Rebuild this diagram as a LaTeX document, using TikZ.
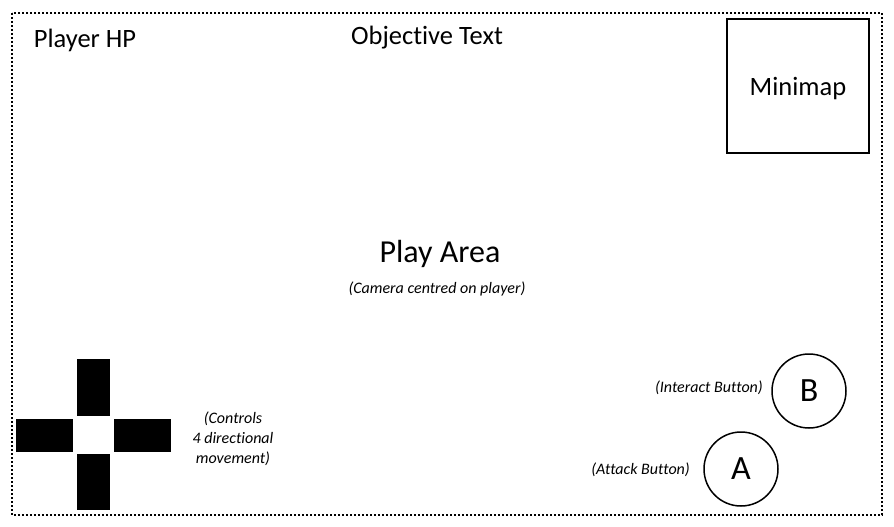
\documentclass[tikz,border=0pt]{standalone}
\usepackage{fontspec}
\setmainfont{Carlito}[Ligatures=CommonOff]
\begin{document}
\begin{tikzpicture}[x=1pt,y=-1pt,
  border/.style={line width=2pt,dash pattern=on 2pt off 2pt},
  pad/.style={fill=black,draw=none},
  btn/.style={circle,draw,line width=1.5pt,minimum size=74pt,inner sep=0pt,font=\fontsize{34}{34}\selectfont},
  lbl/.style={inner sep=0pt,font=\fontsize{26.5}{30}\selectfont},
  note/.style={inner sep=0pt,font=\itshape\fontsize{16}{20}\selectfont,align=center}]
\useasboundingbox (0,0) rectangle (894,527);
\draw[border] (12,13) rectangle (882,515);
\node[lbl] (hp) at (85,40) {Player HP};
\node[lbl] (obj) at (427,38) {Objective Text};
\node[draw,line width=2pt,minimum width=142pt,minimum height=133pt,inner sep=0pt] (map) at (798,86) {};
\node[lbl] at ([yshift=-3pt]map.center) {Minimap};
\node[inner sep=0pt,font=\fontsize{32}{34}\selectfont] (play) at (440,254) {Play Area};
\node[note] (cam) at (437,289) {(Camera centred on player)};
\fill[pad] (77,359) rectangle (110,416);
\fill[pad] (16,419) rectangle (73,452);
\fill[pad] (114,419) rectangle (171,452);
\fill[pad] (77,454) rectangle (110,510);
\node[note] (ctl) at (233,439) {(Controls\\4 directional\\movement)};
\node[btn] (B) at (809,391) {B};
\node[btn] (A) at (741,469) {A};
\node[note,anchor=east] (ib) at (763,388) {(Interact Button)};
\node[note,anchor=east] (ab) at (690,470) {(Attack Button)};
\end{tikzpicture}
\end{document}
